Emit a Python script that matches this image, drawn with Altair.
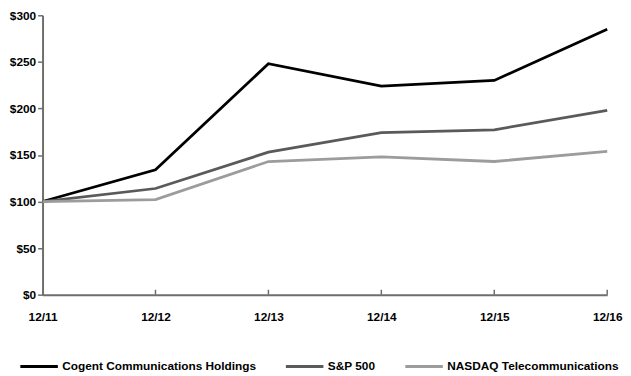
import altair as alt
import pandas as pd

years = ["12/11", "12/12", "12/13", "12/14", "12/15", "12/16"]
series_names = ["Cogent Communications Holdings", "S&P 500", "NASDAQ Telecommunications"]
cogent = [100, 134, 248, 224, 230, 285]
sp500 = [100, 114, 153, 174, 177, 198]
nasdaq = [100, 102, 143, 148, 143, 154]
colors = ["#000000", "#5a5a5a", "#9c9c9c"]

rows = []
for name, vals in zip(series_names, [cogent, sp500, nasdaq]):
    for yr, v in zip(years, vals):
        rows.append({"year": yr, "series": name, "value": v})
df = pd.DataFrame(rows)
ticks_df = pd.DataFrame({"year": years[1:]})

FONT = "Liberation Sans"

x_enc = alt.X("year:O", sort=years, scale=alt.Scale(type="point", padding=0),
              axis=alt.Axis(title=None, labelAngle=0, labelFont=FONT, labelFontSize=12,
                            labelFontWeight="bold", labelColor="#000", tickSize=0,
                            labelPadding=17, domainColor="#6e6e6e", domainWidth=2))

lines = alt.Chart(df).mark_line(strokeWidth=2.8).encode(
    x=x_enc,
    y=alt.Y("value:Q", scale=alt.Scale(domain=[0, 300], nice=False),
            axis=alt.Axis(title=None, values=[0, 50, 100, 150, 200, 250, 300],
                          labelExpr="'$' + datum.value", labelFont=FONT, labelFontSize=12,
                          labelFontWeight="bold", labelColor="#000", tickSize=5,
                          tickColor="#6e6e6e", tickWidth=1.5, labelPadding=2,
                          domainColor="#6e6e6e", domainWidth=2, grid=False)),
    color=alt.Color("series:N", sort=series_names,
                    scale=alt.Scale(domain=series_names, range=colors),
                    legend=alt.Legend(title=None, orient="none", direction="horizontal",
                                      legendX=-24, legendY=335,
                                      symbolType="stroke", symbolSize=1444,
                                      symbolStrokeWidth=3, labelFont=FONT,
                                      labelFontSize=12, labelFontWeight="bold",
                                      labelColor="#000", labelOffset=3,
                                      columnPadding=23, labelLimit=400)),
)

tick_marks = alt.Chart(ticks_df).mark_rule(color="#6e6e6e", strokeWidth=1.5).encode(
    x=alt.X("year:O", sort=years, scale=alt.Scale(type="point", padding=0)),
    y=alt.value(283),
    y2=alt.value(278),
)

chart = alt.layer(lines, tick_marks).properties(
    width=572, height=283,
    autosize=alt.AutoSizeParams(type="none"),
    padding={"left": 35, "top": 5, "right": 16, "bottom": 80},
).configure_view(stroke=None).configure_axis(grid=False)

chart.save("out.html", embed_options={"renderer": "svg", "actions": False})
